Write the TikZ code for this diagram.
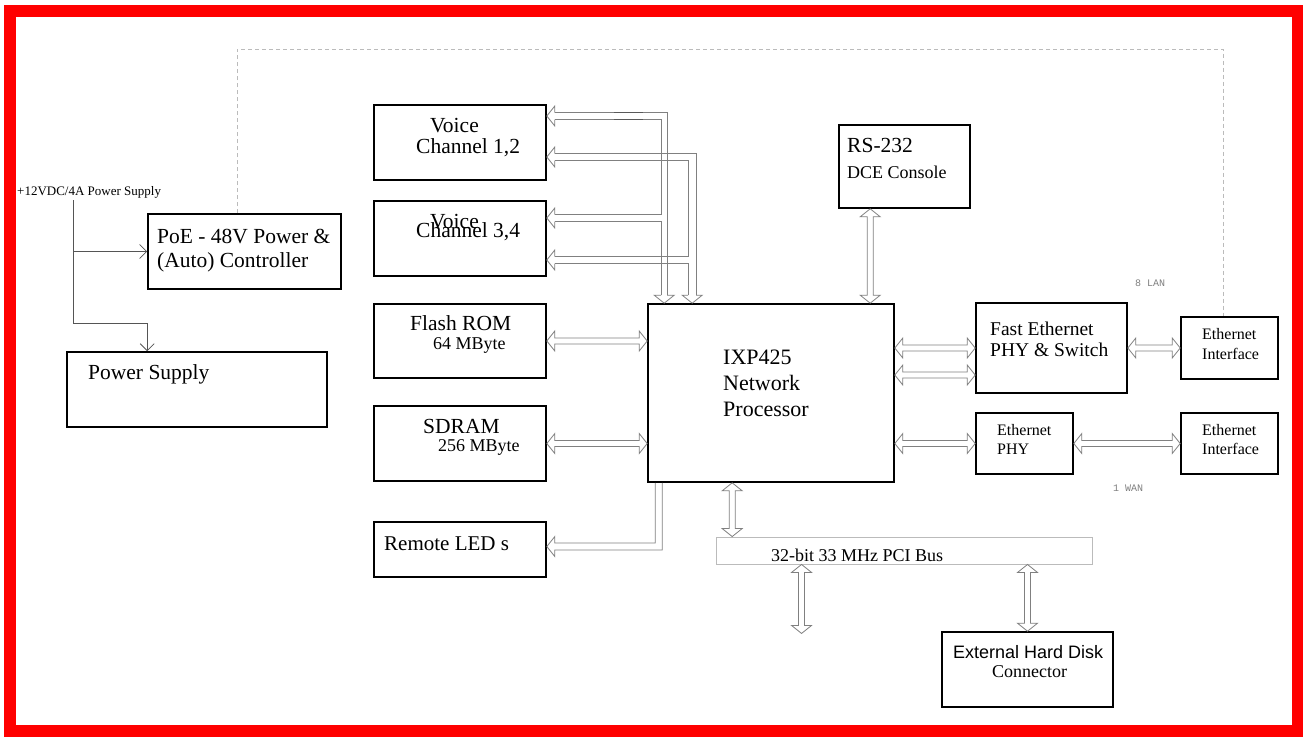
\documentclass[tikz,border=0pt]{standalone}
\usepackage{fontspec}
\setmainfont{Liberation Serif}
\newfontfamily\arialf{Liberation Sans}
\newfontfamily\monof{Liberation Mono}
\usetikzlibrary{calc,arrows.meta}
\definecolor{ar}{HTML}{808080}
\definecolor{dk}{HTML}{555555}
\definecolor{lg}{HTML}{BBBBBB}
\tikzset{
 box/.style={draw=black, line width=1.6pt, inner sep=0pt},
 busbox/.style={draw=lg, line width=0.9pt, inner sep=0pt},
 hol/.style={draw=ar, line width=0.8pt, line join=miter},
 pline/.style={draw=dk, line width=0.8pt},
 dashline/.style={draw=lg, line width=0.8pt, dash pattern=on 4pt off 3pt},
 lab/.style={inner sep=0pt, text=black, anchor=base west},
}
\newcommand\lbl[4]{\node[lab, font=\fontsize{#3}{#3}\selectfont] (#1) at (#2) {#4};}
% double hollow arrow, horizontal: #1 left point, #2 right point
\newcommand\harrow[2]{\draw[hol] let \p1=(#1),\p2=(#2) in
 (\x1,\y1)--(\x1+8pt,\y1+10pt)--(\x1+8pt,\y1+3pt)--(\x2-8pt,\y1+3pt)--(\x2-8pt,\y1+10pt)--(\x2,\y1)
 --(\x2-8pt,\y1-10pt)--(\x2-8pt,\y1-3pt)--(\x1+8pt,\y1-3pt)--(\x1+8pt,\y1-10pt)--cycle;}
% double hollow arrow, vertical: #1 top point, #2 bottom point
\newcommand\varrow[2]{\draw[hol] let \p1=(#1),\p2=(#2) in
 (\x1,\y1)--(\x1+10pt,\y1-8pt)--(\x1+3pt,\y1-8pt)--(\x1+3pt,\y2+8pt)--(\x1+10pt,\y2+8pt)--(\x1,\y2)
 --(\x1-10pt,\y2+8pt)--(\x1-3pt,\y2+8pt)--(\x1-3pt,\y1-8pt)--(\x1-10pt,\y1-8pt)--cycle;}
\newcommand\lhead[1]{\draw[hol] let \p1=(#1) in (\x1+8pt,\y1+3.5pt)--(\x1+8pt,\y1+10pt)--(\x1,\y1)--(\x1+8pt,\y1-10pt)--(\x1+8pt,\y1-3.5pt);}
\newcommand\dhead[2]{\draw[hol] let \p1=(#1) in (\x1-#2,\y1+8pt)--(\x1-10pt,\y1+8pt)--(\x1,\y1)--(\x1+10pt,\y1+8pt)--(\x1+#2,\y1+8pt);}
\begin{document}
\begin{tikzpicture}[x=1pt,y=-1pt]
\useasboundingbox (0,0) rectangle (1303,736);
\fill[white] (0,0) rectangle (1303,736);
\draw[red, line width=12pt] (10,11) rectangle (1298,731);

% boxes
\node[box, minimum width=193pt, minimum height=75pt] (poe) at (244.5,251.5) {};
\node[box, minimum width=260pt, minimum height=75pt] (ps) at (197,389.5) {};
\node[box, minimum width=172pt, minimum height=75pt] (vc12) at (460,142.5) {};
\node[box, minimum width=172pt, minimum height=75pt] (vc34) at (460,238.5) {};
\node[box, minimum width=172pt, minimum height=74pt] (flash) at (460,341) {};
\node[box, minimum width=172pt, minimum height=75pt] (sdram) at (460,443.5) {};
\node[box, minimum width=172pt, minimum height=55pt] (led) at (460,549.5) {};
\node[box, minimum width=246pt, minimum height=178pt] (ixp) at (771,393) {};
\node[box, minimum width=131pt, minimum height=83pt] (rs) at (904.5,166.5) {};
\node[box, minimum width=151pt, minimum height=90pt] (fe) at (1051.5,348) {};
\node[box, minimum width=97pt, minimum height=62pt] (ei1) at (1229.5,348) {};
\node[box, minimum width=97pt, minimum height=61pt] (ephy) at (1024.5,443.5) {};
\node[box, minimum width=97pt, minimum height=61pt] (ei2) at (1229.5,443.5) {};
\node[busbox, minimum width=376pt, minimum height=27pt] (pci) at (904,550.5) {};
\node[box, minimum width=171pt, minimum height=75pt] (hd) at (1027.5,669.5) {};

% labels
\lbl{psl}{17,195}{13}{+12VDC/4A Power Supply}
\lbl{poe1}{157,243}{21.5}{PoE - 48V Power \&}
\lbl{poe2}{157,267}{21.5}{(Auto) Controller}
\lbl{psupp}{88,379}{21.5}{Power Supply}
\lbl{vc1a}{430,132}{21.5}{Voice}
\lbl{vc1b}{416,153}{21.5}{Channel 1,2}
\lbl{vc2a}{430,228}{21.5}{Voice}
\lbl{vc2b}{416,237}{21.5}{Channel 3,4}
\lbl{fl1}{410,330}{21.5}{Flash ROM}
\lbl{fl2}{433,349}{18}{64 MByte}
\lbl{sd1}{423,433}{21.5}{SDRAM}
\lbl{sd2}{438,451}{18}{256 MByte}
\lbl{ledl}{384,550}{21}{Remote LED s}
\lbl{ix1}{723,364}{22}{IXP425}
\lbl{ix2}{723,390}{22}{Network}
\lbl{ix3}{723,416}{22}{Processor}
\lbl{rs1}{847,152}{21.5}{RS-232}
\lbl{rs2}{847,178}{18}{DCE Console}
\lbl{fe1}{990,335.5}{19.5}{Fast Ethernet}
\lbl{fe2}{990,356.5}{19.5}{PHY \& Switch}
\lbl{ea1}{1202,339}{16}{Ethernet}
\lbl{ea2}{1202,359}{16}{Interface}
\lbl{ep1}{997,435}{16}{Ethernet}
\lbl{ep2}{997,454}{16}{PHY}
\lbl{eb1}{1202,435}{16}{Ethernet}
\lbl{eb2}{1202,454}{16}{Interface}
\node[lab, text=gray, font=\monof\fontsize{10}{10}\selectfont] (lan) at (1135,286.5) {8 LAN};
\node[lab, text=gray, font=\monof\fontsize{10}{10}\selectfont] (wan) at (1113,491.5) {1 WAN};
\lbl{pcil}{771,561}{18}{32-bit 33 MHz PCI Bus}
\node[lab, font=\arialf\fontsize{18}{18}\selectfont] (hd1) at (953,658) {External Hard Disk};
\lbl{hd2}{992,677}{18}{Connector}

% power supply lines
\coordinate (pwr) at ($(psl.south west)+(56,2)$);
\coordinate (psin) at ($(ps.north west)+(81,0)$);
\draw[pline,-{Straight Barb[length=7pt,width=14pt]}] (pwr) |- ($(psin)+(0,-28)$) -- (psin);
\draw[pline,-{Straight Barb[length=7pt,width=14pt]}] (pwr |- poe.west) -- (poe.west);

% dashed line
\coordinate (dq) at ($(poe.north west)+(90,0)$);
\coordinate (dr) at ($(ei1.north)+(-6,0)$);
\draw[dashline] (dq) -- ++(0,-164) -| (dr);

% horizontal double arrows
\harrow{flash.east}{ixp.west |- flash.east}
\harrow{sdram.east}{ixp.west |- sdram.east}
\coordinate (fe2p) at ($(fe.west)+(0,27)$);
\harrow{ixp.east |- fe.west}{fe.west}
\harrow{ixp.east |- fe2p}{fe2p}
\harrow{fe.east |- ei1.west}{ei1.west}
\harrow{ixp.east |- ephy.west}{ephy.west}
\harrow{ephy.east}{ei2.west}

% vertical double arrows
\coordinate (rsb) at ($(rs.south west)+(32,0)$);
\varrow{rsb}{rsb |- ixp.north}
\coordinate (ib) at ($(ixp.south west)+(85,0)$);
\varrow{ib}{ib |- pci.north}
\coordinate (pb) at ($(pci.south west)+(86,0)$);
\coordinate (pend) at ($(pb)+(0,69)$);
\varrow{pb}{pend}
\varrow{hd.north |- pci.south}{hd.north}

% remote LEDs arrow
\coordinate (lh) at ($(led.east)+(0,-3)$);
\draw[hol] let \p1=(lh), \p2=(ixp.south west) in
 (\x2+8pt,\y2)--(\x2+8pt,\y1+3.5pt)--(\x1+8pt,\y1+3.5pt)--(\x1+8pt,\y1+10pt)--(\x1,\y1)
 --(\x1+8pt,\y1-10pt)--(\x1+8pt,\y1-3.5pt)--(\x2+15pt,\y1-3.5pt)--(\x2+15pt,\y2);

% voice channel arrows
\coordinate (h1) at ($(vc12.east)+(0,-26.5)$);
\coordinate (h2) at ($(vc12.east)+(0,14.5)$);
\coordinate (h3) at ($(vc34.east)+(0,-20.5)$);
\coordinate (h4) at ($(vc34.east)+(0,21.5)$);
\coordinate (d1) at ($(ixp.north west)+(17,0)$);
\coordinate (d2) at ($(ixp.north west)+(45,0)$);
\lhead{h1}\lhead{h2}\lhead{h3}\lhead{h4}
\dhead{d1}{3pt}\dhead{d2}{4pt}
\draw[hol] let \p1=(h1),\p2=(d1) in (\x1+8pt,\y1+3.5pt)--(\x2+3pt,\y1+3.5pt)--(\x2+3pt,\y2+8pt);
\draw[hol] let \p1=(h1),\p2=(d1),\p3=(h3) in (\x1+8pt,\y1-3.5pt)--(\x2-3pt,\y1-3.5pt)--(\x2-3pt,\y3+3.5pt)--(\x3+8pt,\y3+3.5pt);
\draw[hol] let \p2=(d1),\p3=(h3) in (\x3+8pt,\y3-3.5pt)--(\x2-3pt,\y3-3.5pt)--(\x2-3pt,\y2+8pt);
\draw[hol] let \p1=(h2),\p2=(d2) in (\x1+8pt,\y1+3.5pt)--(\x2+4pt,\y1+3.5pt)--(\x2+4pt,\y2+8pt);
\draw[hol] let \p1=(h2),\p2=(d2),\p4=(h4) in (\x1+8pt,\y1-3.5pt)--(\x2-4pt,\y1-3.5pt)--(\x2-4pt,\y4+3.5pt)--(\x4+8pt,\y4+3.5pt);
\draw[hol] let \p2=(d2),\p4=(h4) in (\x4+8pt,\y4-3.5pt)--(\x2-4pt,\y4-3.5pt)--(\x2-4pt,\y2+8pt);
% darker overlay segments
\draw[draw=gray!70!black, line width=1.1pt] ($(h1)+(67,-3.5)$) -- ++(29,0);
\draw[draw=gray!70!black, line width=1.3pt] ($(h1)+(67,3.5)$) -- ++(29,0);
\end{tikzpicture}
\end{document}
